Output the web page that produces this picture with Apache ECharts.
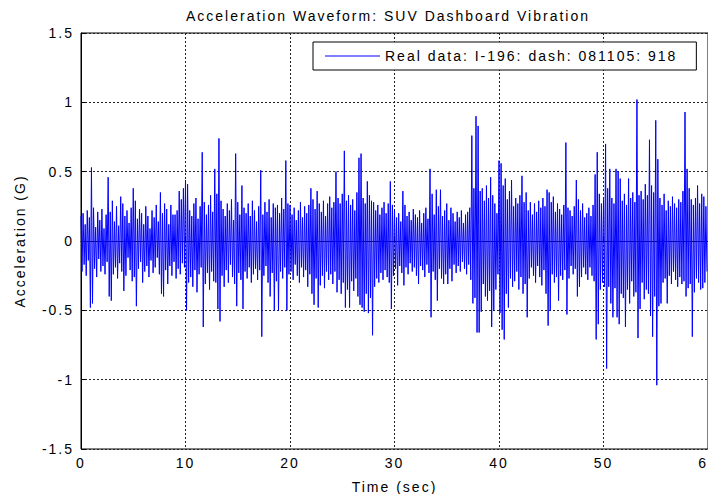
<!DOCTYPE html>
<html>
<head>
<meta charset="utf-8">
<script src="https://cdn.jsdelivr.net/npm/echarts@6/dist/echarts.min.js"></script>
<style>
html,body{margin:0;padding:0;background:#fff;}
#chart{width:708px;height:494px;}
#chart text{letter-spacing:2px;}
</style>
</head>
<body>
<div id="chart"></div>
<script>
// Acceleration samples (G), one every 0.1 s
var sampleStep = 0.1;
var accel00to10 = [
 0.18,-0.22, 0.20,-0.17, 0.12,-0.25, 0.22,-0.14, 0.17,-0.48,
 0.53,-0.45, 0.24,-0.20, 0.10,-0.26, 0.21,-0.13, 0.15,-0.22,
 0.23,-0.18, 0.09,-0.24, 0.19,-0.15, 0.46,-0.40, 0.21,-0.43,
 0.29,-0.24, 0.14,-0.19, 0.25,-0.27, 0.11,-0.16, 0.32,-0.22,
 0.27,-0.36, 0.18,-0.25, 0.22,-0.12, 0.13,-0.21, 0.24,-0.29,
 0.38,-0.26, 0.29,-0.47, 0.16,-0.20, 0.23,-0.15, 0.20,-0.30,
 0.12,-0.22, 0.25,-0.18, 0.18,-0.26, 0.09,-0.14, 0.22,-0.23,
 0.17,-0.19, 0.26,-0.12, 0.14,-0.24, 0.35,-0.38, 0.20,-0.40,
 0.27,-0.21, 0.23,-0.31, 0.12,-0.18, 0.26,-0.25, 0.19,-0.15,
 0.19,-0.27, 0.22,-0.20, 0.36,-0.24, 0.30,-0.16, 0.38,-0.19
];
var accel10to20 = [
 0.44,-0.50, 0.41,-0.30, 0.22,-0.26, 0.18,-0.33, 0.27,-0.21,
 0.31,-0.37, 0.16,-0.24, 0.25,-0.19, 0.64,-0.62, 0.28,-0.31,
 0.19,-0.23, 0.26,-0.35, 0.33,-0.22, 0.21,-0.29, 0.52,-0.30,
 0.34,-0.49, 0.74,-0.58, 0.29,-0.25, 0.23,-0.33, 0.18,-0.21,
 0.27,-0.30, 0.22,-0.17, 0.30,-0.26, 0.15,-0.31, 0.63,-0.47,
 0.28,-0.23, 0.19,-0.28, 0.40,-0.49, 0.24,-0.22, 0.20,-0.27,
 0.27,-0.19, 0.18,-0.30, 0.29,-0.24, 0.22,-0.20, 0.14,-0.28,
 0.25,-0.21, 0.51,-0.69, 0.19,-0.25, 0.28,-0.18, 0.21,-0.30,
 0.30,-0.40, 0.17,-0.23, 0.27,-0.50, 0.24,-0.29, 0.26,-0.50,
 0.20,-0.22, 0.31,-0.27, 0.23,-0.19, 0.58,-0.50, 0.27,-0.24
];
var accel20to30 = [
 0.26,-0.22, 0.19,-0.28, 0.24,-0.17, 0.15,-0.25, 0.22,-0.30,
 0.28,-0.19, 0.17,-0.26, 0.25,-0.21, 0.20,-0.33, 0.26,-0.24,
 0.38,-0.38, 0.30,-0.46, 0.23,-0.27, 0.36,-0.48, 0.27,-0.32,
 0.21,-0.25, 0.29,-0.34, 0.18,-0.22, 0.27,-0.28, 0.32,-0.24,
 0.24,-0.31, 0.28,-0.22, 0.50,-0.37, 0.31,-0.28, 0.27,-0.38,
 0.34,-0.30, 0.65,-0.48, 0.29,-0.35, 0.33,-0.48, 0.26,-0.29,
 0.30,-0.36, 0.22,-0.27, 0.35,-0.40, 0.60,-0.46, 0.63,-0.48,
 0.31,-0.51, 0.27,-0.38, 0.43,-0.52, 0.33,-0.41, 0.29,-0.68,
 0.28,-0.33, 0.22,-0.27, 0.26,-0.30, 0.19,-0.23, 0.24,-0.28,
 0.28,-0.21, 0.20,-0.26, 0.27,-0.30, 0.43,-0.49, 0.26,-0.25
];
var accel30to40 = [
 0.22,-0.20, 0.17,-0.32, 0.20,-0.18, 0.14,-0.23, 0.36,-0.32,
 0.26,-0.19, 0.18,-0.24, 0.21,-0.16, 0.15,-0.22, 0.23,-0.19,
 0.19,-0.25, 0.17,-0.31, 0.22,-0.18, 0.13,-0.21, 0.20,-0.26,
 0.24,-0.17, 0.16,-0.23, 0.52,-0.55, 0.34,-0.22, 0.19,-0.28,
 0.37,-0.43, 0.25,-0.20, 0.37,-0.27, 0.18,-0.31, 0.22,-0.24,
 0.27,-0.31, 0.15,-0.20, 0.24,-0.29, 0.20,-0.17, 0.14,-0.23,
 0.21,-0.18, 0.17,-0.22, 0.22,-0.15, 0.13,-0.20, 0.19,-0.24,
 0.21,-0.17, 0.24,-0.28, 0.76,-0.45, 0.38,-0.41, 0.90,-0.66,
 0.83,-0.66, 0.36,-0.51, 0.38,-0.31, 0.29,-0.40, 0.40,-0.43,
 0.31,-0.36, 0.46,-0.62, 0.33,-0.50, 0.27,-0.35, 0.20,-0.24
];
var accel40to50 = [
 0.58,-0.52, 0.56,-0.64, 0.40,-0.71, 0.45,-0.38, 0.30,-0.48,
 0.36,-0.27, 0.44,-0.33, 0.25,-0.29, 0.31,-0.22, 0.27,-0.35,
 0.33,-0.26, 0.47,-0.38, 0.28,-0.31, 0.35,-0.55, 0.22,-0.27,
 0.28,-0.19, 0.19,-0.25, 0.27,-0.30, 0.21,-0.18, 0.29,-0.26,
 0.24,-0.32, 0.31,-0.21, 0.25,-0.38, 0.37,-0.61, 0.35,-0.50,
 0.28,-0.24, 0.32,-0.30, 0.21,-0.26, 0.27,-0.43, 0.23,-0.25,
 0.19,-0.28, 0.26,-0.21, 0.71,-0.53, 0.24,-0.27, 0.22,-0.18,
 0.18,-0.24, 0.25,-0.20, 0.44,-0.40, 0.30,-0.33, 0.22,-0.26,
 0.27,-0.19, 0.17,-0.24, 0.20,-0.28, 0.24,-0.19, 0.18,-0.25,
 0.26,-0.29, 0.48,-0.71, 0.64,-0.60, 0.34,-0.35, 0.27,-0.30
];
var accel50to60 = [
 0.30,-0.33, 0.70,-0.92, 0.38,-0.33, 0.52,-0.45, 0.31,-0.55,
 0.27,-0.34, 0.52,-0.55, 0.50,-0.60, 0.45,-0.38, 0.29,-0.41,
 0.34,-0.62, 0.26,-0.35, 0.45,-0.45, 0.31,-0.29, 0.35,-0.40,
 0.28,-0.37, 1.02,-0.70, 0.33,-0.49, 0.36,-0.30, 0.30,-0.42,
 0.41,-0.35, 0.33,-0.38, 0.73,-0.54, 0.40,-0.69, 0.35,-0.40,
 0.87,-1.04, 0.59,-0.47, 0.31,-0.45, 0.26,-0.30, 0.34,-0.27,
 0.22,-0.45, 0.29,-0.25, 0.25,-0.31, 0.32,-0.22, 0.27,-0.28,
 0.24,-0.33, 0.30,-0.26, 0.28,-0.31, 0.36,-0.29, 0.93,-0.40,
 0.52,-0.34, 0.38,-0.31, 0.30,-0.69, 0.26,-0.37, 0.31,-0.27,
 0.40,-0.30, 0.27,-0.35, 0.34,-0.34, 0.32,-0.30, 0.25,-0.22
];
var xTicks = [0, 10, 20, 30, 40, 50, 60];
var yTicks = [-1.5, -1, -0.5, 0, 0.5, 1, 1.5];
var titleText = 'Acceleration Waveform: SUV Dashboard Vibration';
var legendName = 'Real data: I-196: dash: 081105: 918';
var xName = 'Time (sec)';
var yName = 'Acceleration (G)';

var allSamples = [].concat(accel00to10, accel10to20, accel20to30, accel30to40, accel40to50, accel50to60);
var seriesData = allSamples.map(function (v, i) { return [+(i * sampleStep).toFixed(1), v]; });

var font = "'Liberation Sans', Arial, Helvetica, sans-serif";
var chart = echarts.init(document.getElementById('chart'), null, {renderer: 'svg'});
chart.setOption({
  animation: false,
  backgroundColor: '#fff',
  textStyle: {fontFamily: font},
  title: {
    text: titleText, left: 186, top: 9, padding: 0,
    textStyle: {fontSize: 14, fontWeight: 'normal', color: '#000', fontFamily: font}
  },
  legend: {
    left: 313, top: 42, padding: [7, 89, 7, 12],
    icon: 'rect', itemWidth: 55, itemHeight: 1,
    itemStyle: {color: '#0000ff', borderWidth: 0},
    backgroundColor: '#fff', borderColor: '#000', borderWidth: 1,
    textStyle: {fontSize: 14, color: '#000', fontFamily: font},
    data: [legendName]
  },
  grid: {left: 81, top: 33, right: 0, bottom: 45, show: true, borderColor: '#000', borderWidth: 1,
         containLabel: false, outerBoundsMode: 'none'},
  xAxis: {
    type: 'value', min: xTicks[0], max: xTicks[xTicks.length - 1], interval: 10,
    name: xName, nameLocation: 'middle', nameGap: 31,
    nameTextStyle: {fontSize: 14, color: '#000', fontFamily: font},
    axisLine: {show: true, lineStyle: {color: '#000', width: 1}},
    axisTick: {show: true, inside: true, length: 5, lineStyle: {color: '#000'}},
    axisLabel: {fontSize: 14, color: '#000', margin: 7, fontFamily: font, showMaxLabel: true},
    splitLine: {show: true, lineStyle: {color: '#222', type: [2, 2], width: 1}}
  },
  yAxis: {
    type: 'value', min: yTicks[0], max: yTicks[yTicks.length - 1], interval: 0.5,
    name: yName, nameLocation: 'middle', nameGap: 54,
    nameTextStyle: {fontSize: 14, color: '#000', fontFamily: font},
    axisLine: {show: true, lineStyle: {color: '#000', width: 1}},
    axisTick: {show: true, inside: true, length: 5, lineStyle: {color: '#000'}},
    axisLabel: {fontSize: 14, color: '#000', margin: 7, fontFamily: font},
    splitLine: {show: true, lineStyle: {color: '#222', type: [2, 2], width: 1}}
  },
  series: [{
    name: legendName, type: 'line', data: seriesData,
    symbol: 'none', showSymbol: false, sampling: null,
    lineStyle: {color: '#0000ff', width: 1},
    itemStyle: {color: '#0000ff'}
  }]
});
</script>
</body>
</html>
